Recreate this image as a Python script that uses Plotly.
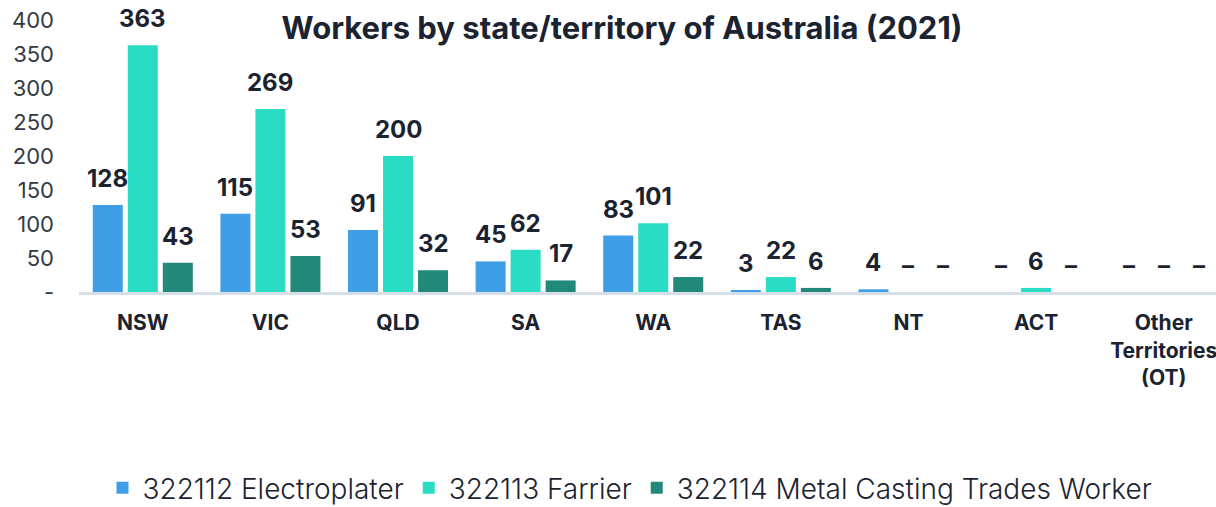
import plotly.graph_objects as go

categories = ["NSW", "VIC", "QLD", "SA", "WA", "TAS", "NT", "ACT", "Other<br>Territories<br>(OT)"]
series_names = ["322112 Electroplater", "322113 Farrier", "322114 Metal Casting Trades Worker"]
electroplater = [128, 115, 91, 45, 83, 3, 4, 0, 0]
farrier = [363, 269, 200, 62, 101, 22, 0, 6, 0]
metal_casting = [43, 53, 32, 17, 22, 6, 0, 0, 0]
y_ticks = [0, 50, 100, 150, 200, 250, 300, 350, 400]
y_tick_labels = ["-", "50", "100", "150", "200", "250", "300", "350", "400"]

colors = ["#409ee6", "#2adcc4", "#22887a"]
FONT = "Inter"
DARK = "#1b2330"
BARGAP = 0.177
GROUPGAP = 0.143

fig = go.Figure()
all_series = [electroplater, farrier, metal_casting]
n = len(all_series)
slot = (1 - BARGAP) / n
for k, (name, vals, col) in enumerate(zip(series_names, all_series, colors)):
    xs = list(range(len(categories)))
    fig.add_trace(go.Bar(
        x=xs, y=vals, name=name,
        marker=dict(color=col, line=dict(width=0)),
    ))
    off = (k - (n - 1) / 2) * slot
    for i, v in zip(xs, vals):
        fig.add_annotation(
            x=i + off, y=v, xref="x", yref="y",
            text=str(v) if v else "–", showarrow=False,
            yanchor="bottom", xanchor="center", yshift=10,
            font=dict(family=FONT, size=24, color=DARK, weight="bold"),
        )

fig.update_layout(
    width=1216, height=507,
    margin=dict(l=79, r=0, t=20, b=215, autoexpand=False),
    paper_bgcolor="white", plot_bgcolor="white",
    barmode="group", bargap=BARGAP, bargroupgap=GROUPGAP,
    title=dict(text="<b>Workers by state/territory of Australia (2021)</b>",
               x=622 / 1216, xanchor="center", y=1 - 28 / 507, yanchor="middle",
               font=dict(family=FONT, size=31, color=DARK)),
    legend=dict(orientation="h", x=630 / 1216, xref="container", xanchor="center",
                y=1 - 488 / 507, yref="container", yanchor="middle",
                font=dict(family=FONT, size=28, color=DARK, weight=300),
                itemwidth=30, traceorder="normal"),
)
fig.update_xaxes(
    range=[-0.5, 8.41], tickvals=list(range(len(categories))), ticktext=categories,
    showline=True, linecolor="#d5dfe9", linewidth=3, ticks="",
    tickfont=dict(family=FONT, size=21, color=DARK, weight="bold"),
    showgrid=False, zeroline=False, automargin=False, ticklabeloverflow="allow",
    ticklabelstandoff=10,
)
fig.update_yaxes(
    range=[0, 400], tickvals=y_ticks, ticktext=y_tick_labels,
    showgrid=False, zeroline=False, showline=False, ticks="",
    tickfont=dict(family=FONT, size=22, color="#333a44"),
    ticklabelstandoff=24, automargin=False,
)
fig.write_html("out.html", config={"displayModeBar": False},
               post_script="document.body.style.margin='0';document.body.style.overflow='hidden';")
